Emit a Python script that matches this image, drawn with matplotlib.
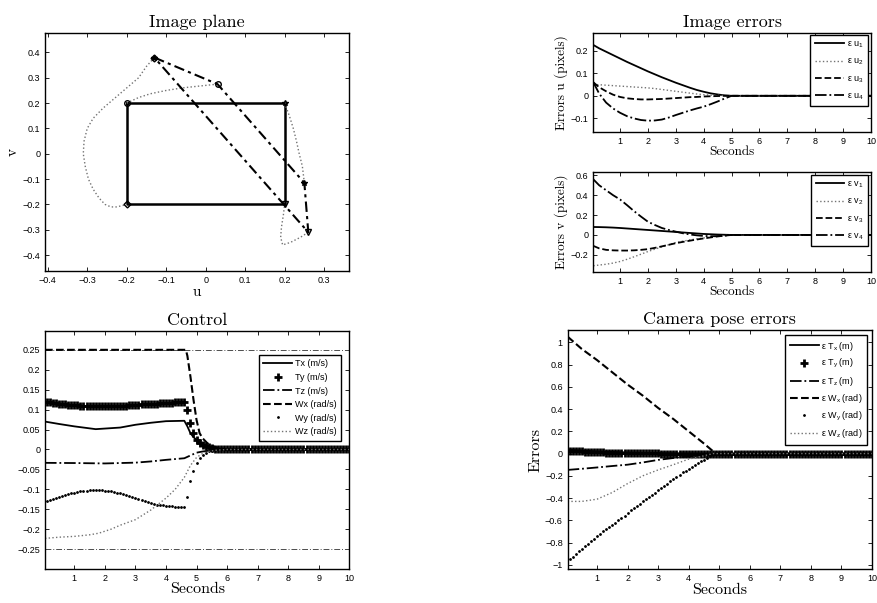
import numpy as np
import matplotlib
matplotlib.use("Agg")
import matplotlib.pyplot as plt
from matplotlib.ticker import FuncFormatter

plt.rcParams["font.family"] = ["Liberation Sans", "DejaVu Sans"]
plt.rcParams["mathtext.default"] = "regular"
plt.rcParams["axes.unicode_minus"] = True

SERIF = "cmr10"

# --- image plane: desired square, initial points, trajectories ---
des_u = [-0.2, 0.2, 0.2, -0.2, -0.2]
des_v = [0.2, 0.2, -0.2, -0.2, 0.2]
init_u = [-0.13, 0.03, 0.25, 0.26, -0.13]
init_v = [0.38, 0.275, -0.115, -0.31, 0.38]

traj1_u = [-0.13, -0.15, -0.17, -0.2, -0.23, -0.26, -0.285, -0.3, -0.308, -0.31,
           -0.305, -0.297, -0.285, -0.27, -0.255, -0.24, -0.225, -0.2]
traj1_v = [0.38, 0.345, 0.3, 0.26, 0.22, 0.18, 0.14, 0.1, 0.05, 0.0,
           -0.05, -0.1, -0.14, -0.175, -0.2, -0.21, -0.21, -0.2]
traj2_u = [0.03, 0.0, -0.03, -0.06, -0.1, -0.14, -0.17, -0.2]
traj2_v = [0.275, 0.27, 0.265, 0.26, 0.25, 0.237, 0.222, 0.2]
traj3_u = [0.25, 0.245, 0.237, 0.23, 0.222, 0.212, 0.2]
traj3_v = [-0.115, -0.05, 0.0, 0.05, 0.1, 0.15, 0.2]
traj4_u = [0.26, 0.24, 0.215, 0.195, 0.19, 0.192, 0.197, 0.2]
traj4_v = [-0.31, -0.33, -0.35, -0.36, -0.33, -0.29, -0.24, -0.2]

# --- image errors ---
t_err = [0.04, 0.25, 0.5, 0.75, 1, 1.25, 1.5, 1.75, 2, 2.25, 2.5, 2.75, 3,
         3.25, 3.5, 3.75, 4, 4.25, 4.5, 4.75, 5, 10]
eu1 = [0.225, 0.21, 0.195, 0.18, 0.165, 0.15, 0.136, 0.122, 0.108, 0.095, 0.082,
       0.07, 0.058, 0.047, 0.036, 0.026, 0.018, 0.011, 0.006, 0.002, 0.0, 0.0]
eu2 = [0.05, 0.049, 0.047, 0.045, 0.043, 0.041, 0.039, 0.037, 0.035, 0.032, 0.028,
       0.024, 0.02, 0.016, 0.012, 0.008, 0.005, 0.003, 0.002, 0.001, 0.0, 0.0]
eu3 = [0.06, 0.038, 0.02, 0.005, -0.005, -0.011, -0.014, -0.016, -0.016, -0.015, -0.014,
       -0.012, -0.01, -0.008, -0.006, -0.005, -0.003, -0.002, -0.001, 0.0, 0.0, 0.0]
eu4 = [0.06, 0.01, -0.03, -0.056, -0.075, -0.09, -0.1, -0.107, -0.11, -0.109, -0.105,
       -0.096, -0.085, -0.075, -0.065, -0.056, -0.048, -0.037, -0.025, -0.012, 0.0, 0.0]
ev1 = [0.08, 0.079, 0.077, 0.074, 0.07, 0.065, 0.06, 0.055, 0.05, 0.045, 0.04,
       0.035, 0.03, 0.025, 0.02, 0.015, 0.01, 0.007, 0.004, 0.002, 0.0, 0.0]
ev2 = [-0.31, -0.303, -0.295, -0.283, -0.267, -0.245, -0.22, -0.194, -0.167, -0.143, -0.12,
       -0.098, -0.077, -0.063, -0.05, -0.04, -0.03, -0.021, -0.012, -0.005, 0.0, 0.0]
ev3 = [-0.11, -0.135, -0.15, -0.155, -0.157, -0.157, -0.155, -0.15, -0.143, -0.13, -0.115,
       -0.099, -0.083, -0.07, -0.058, -0.046, -0.035, -0.025, -0.015, -0.007, 0.0, 0.0]
ev4 = [0.56, 0.5, 0.45, 0.4, 0.357, 0.3, 0.24, 0.185, 0.133, 0.1, 0.07,
       0.05, 0.033, 0.017, 0.005, -0.004, -0.01, -0.013, -0.012, -0.007, 0.0, 0.0]

# --- control ---
t_tx = [0.04, 0.5, 1, 1.7, 2.5, 3, 3.5, 4, 4.6, 4.7, 4.8, 4.9, 5.0, 5.2, 5.4, 5.7, 6, 10]
ctrl_tx = [0.07, 0.064, 0.058, 0.051, 0.055, 0.062, 0.067, 0.071, 0.072, 0.058, 0.041,
           0.031, 0.024, 0.013, 0.007, 0.003, 0.0, 0.0]
t_tz = [0.04, 1, 2, 3, 3.5, 4, 4.6, 4.8, 5.0, 5.2, 5.4, 5.6, 10]
ctrl_tz = [-0.0335, -0.034, -0.035, -0.033, -0.03, -0.026, -0.022, -0.015, -0.008,
           -0.005, -0.003, 0.0, 0.0]
t_wx = [0.04, 4.65, 4.7, 4.8, 4.9, 5.0, 5.1, 5.2, 5.35, 5.5, 5.7, 6.0, 10]
ctrl_wx = [0.25, 0.25, 0.235, 0.183, 0.125, 0.074, 0.041, 0.028, 0.016, 0.009, 0.004, 0.0, 0.0]
t_wz = [0.04, 0.5, 1, 1.5, 1.8, 2.2, 2.5, 3, 3.5, 4, 4.3, 4.6, 4.8, 5.0, 5.2, 5.4, 5.6, 6, 10]
ctrl_wz = [-0.223, -0.22, -0.218, -0.214, -0.21, -0.2, -0.19, -0.176, -0.152, -0.122,
           -0.1, -0.07, -0.04, -0.02, -0.01, -0.005, -0.002, 0.0, 0.0]
# sampled every 0.1 s (marker series)
t_samp = np.round(np.arange(1, 101) * 0.1, 2)
ctrl_ty = ([0.118, 0.118, 0.117, 0.116, 0.115, 0.114, 0.113, 0.112, 0.112, 0.111,
            0.111, 0.11, 0.11, 0.11, 0.11, 0.11, 0.11, 0.11, 0.11, 0.11,
            0.11, 0.11, 0.11, 0.11, 0.11, 0.11, 0.11, 0.111, 0.111, 0.112,
            0.112, 0.113, 0.113, 0.114, 0.114, 0.115, 0.115, 0.116, 0.116, 0.117,
            0.117, 0.117, 0.118, 0.118, 0.118, 0.118,
            0.099, 0.066, 0.041, 0.024, 0.016, 0.012, 0.008, 0.005, 0.003, 0.002,
            0.001, 0.0, 0.0, 0.0] + [0.0] * 40)
ctrl_wy = ([-0.128, -0.126, -0.124, -0.122, -0.12, -0.117, -0.115, -0.112, -0.11, -0.108,
            -0.106, -0.105, -0.104, -0.103, -0.102, -0.101, -0.101, -0.101, -0.102, -0.103,
            -0.104, -0.105, -0.107, -0.108, -0.11, -0.112, -0.115, -0.117, -0.12, -0.122,
            -0.124, -0.127, -0.129, -0.132, -0.134, -0.136, -0.138, -0.139, -0.14, -0.141,
            -0.142, -0.143, -0.144, -0.144, -0.145, -0.145,
            -0.12, -0.08, -0.055, -0.035, -0.022, -0.013, -0.008, -0.005, -0.003, -0.001,
            0.0, 0.0, 0.0, 0.0] + [0.0] * 40)
sat_limit = 0.25

# --- camera pose errors ---
t_pose = [0.04, 0.5, 1, 1.5, 2, 2.5, 3, 3.5, 4, 4.5, 4.8, 5, 10]
pose_tx = [0.035, 0.028, 0.02, 0.015, 0.01, 0.007, 0.005, 0.003, 0.002, 0.001, 0.0, 0.0, 0.0]
pose_tz = [-0.147, -0.137, -0.125, -0.112, -0.1, -0.08, -0.057, -0.04, -0.025, -0.01, 0.0, 0.0, 0.0]
pose_wx = [1.05, 0.94, 0.84, 0.73, 0.62, 0.52, 0.41, 0.31, 0.2, 0.09, 0.02, 0.0, 0.0]
pose_wz = [-0.43, -0.43, -0.41, -0.35, -0.27, -0.2, -0.147, -0.1, -0.05, -0.02, 0.0, 0.0, 0.0]
pose_ty = ([0.025, 0.024, 0.022, 0.021, 0.019, 0.018, 0.016, 0.015, 0.013, 0.012,
            0.011, 0.01, 0.009, 0.008, 0.007, 0.007, 0.006, 0.006, 0.005, 0.005,
            0.004, 0.004, 0.003, 0.003, 0.003, 0.002, 0.002, 0.002, 0.001, 0.001] + [0.0] * 70)
pose_wy = ([-0.95, -0.93, -0.9, -0.88, -0.86, -0.83, -0.81, -0.79, -0.77, -0.745,
            -0.72, -0.7, -0.68, -0.66, -0.64, -0.62, -0.6, -0.58, -0.56, -0.53,
            -0.51, -0.49, -0.47, -0.45, -0.43, -0.41, -0.39, -0.37, -0.35, -0.33,
            -0.31, -0.29, -0.27, -0.25, -0.23, -0.21, -0.19, -0.17, -0.155, -0.14,
            -0.12, -0.1, -0.085, -0.07, -0.055, -0.04, -0.025, -0.01] + [0.0] * 52)


def g_fmt(x, pos):
    if abs(x) < 1e-9:
        return "0"
    s = "%g" % round(x, 6)
    return s.replace("-", "\u2212")


def style(ax):
    ax.tick_params(direction="in", top=True, right=True, labelsize=6.5, length=3, width=0.6)
    ax.xaxis.set_major_formatter(FuncFormatter(g_fmt))
    ax.yaxis.set_major_formatter(FuncFormatter(g_fmt))
    for sp in ax.spines.values():
        sp.set_linewidth(1.0)


def legend(ax, x, y, spacing=0.5):
    leg = ax.legend(loc="upper right", bbox_to_anchor=(x, y), borderaxespad=0,
                    fontsize=6.5, fancybox=False, framealpha=1, edgecolor="black",
                    handlelength=3.2, handletextpad=0.3, labelspacing=spacing, borderpad=0.5)
    leg.get_frame().set_linewidth(1.0)


fig = plt.figure(figsize=(8.77, 6.03), dpi=100)
DOT = "0.45"

# image plane
ax = fig.add_axes([0.0513, 0.5506, 0.3466, 0.3947])
ax.plot(des_u, des_v, "-", color="black", lw=1.8)
for uu, vv in [(traj1_u, traj1_v), (traj2_u, traj2_v), (traj3_u, traj3_v), (traj4_u, traj4_v)]:
    ax.plot(uu, vv, ":", color=DOT, lw=1.0)
ax.plot(init_u, init_v, color="black", lw=1.5, dashes=(5, 2, 1.5, 2))
ax.plot(des_u[0], des_v[0], "o", mfc="none", mec="black", ms=4)
ax.plot(des_u[1], des_v[1], "*", mfc="none", mec="black", ms=4)
ax.plot(des_u[3], des_v[3], "D", mfc="none", mec="black", ms=3.5)
ax.plot(des_u[2], des_v[2], "v", mfc="none", mec="black", ms=4)
ax.plot(init_u[0], init_v[0], "D", mfc="none", mec="black", ms=3.5)
ax.plot(init_u[0], init_v[0], "*", mfc="none", mec="black", ms=4)
ax.plot(init_u[1], init_v[1], "o", mfc="none", mec="black", ms=4)
ax.plot(init_u[2], init_v[2], "*", mfc="none", mec="black", ms=4)
ax.plot(init_u[3], init_v[3], "v", mfc="none", mec="black", ms=4)
ax.set_xlim(-0.407, 0.363)
ax.set_ylim(-0.463, 0.477)
ax.set_xticks(np.round(np.arange(-0.4, 0.31, 0.1), 1))
ax.set_yticks(np.round(np.arange(-0.4, 0.41, 0.1), 1))
style(ax)
ax.set_title("Image plane", fontfamily=SERIF, fontsize=13, pad=4)
ax.set_xlabel("u", fontfamily=SERIF, fontsize=11, labelpad=0)
ax.set_ylabel("v", fontfamily=SERIF, fontsize=11, labelpad=2)

# image errors u
ax = fig.add_axes([0.6765, 0.7811, 0.3166, 0.165])
ax.plot(t_err, eu1, "-", color="black", lw=1.3, label="ε u$_1$")
ax.plot(t_err, eu2, ":", color=DOT, lw=1.0, label="ε u$_2$")
ax.plot(t_err, eu3, "--", color="black", lw=1.3, label="ε u$_3$")
ax.plot(t_err, eu4, "-.", color="black", lw=1.3, label="ε u$_4$")
ax.set_xlim(0.04, 10)
ax.set_ylim(-0.16, 0.28)
ax.set_xticks(range(1, 11))
ax.set_yticks([-0.1, 0, 0.1, 0.2])
style(ax)
legend(ax, 0.99, 0.975, spacing=0.75)
ax.set_title("Image errors", fontfamily=SERIF, fontsize=13, pad=4)
ax.set_xlabel("Seconds", fontfamily=SERIF, fontsize=9.5, labelpad=0)
ax.set_ylabel("Errors u (pixels)", fontfamily=SERIF, fontsize=9.5, labelpad=2)

# image errors v
ax = fig.add_axes([0.6765, 0.5494, 0.3166, 0.1648])
ax.plot(t_err, ev1, "-", color="black", lw=1.3, label="ε v$_1$")
ax.plot(t_err, ev2, ":", color=DOT, lw=1.0, label="ε v$_2$")
ax.plot(t_err, ev3, "--", color="black", lw=1.3, label="ε v$_3$")
ax.plot(t_err, ev4, "-.", color="black", lw=1.3, label="ε v$_4$")
ax.set_xlim(0.04, 10)
ax.set_ylim(-0.37, 0.63)
ax.set_xticks(range(1, 11))
ax.set_yticks([-0.2, 0, 0.2, 0.4, 0.6])
style(ax)
legend(ax, 0.99, 0.973, spacing=0.75)
ax.set_xlabel("Seconds", fontfamily=SERIF, fontsize=9.5, labelpad=0)
ax.set_ylabel("Errors v (pixels)", fontfamily=SERIF, fontsize=9.5, labelpad=2)

# control
ax = fig.add_axes([0.0513, 0.0569, 0.347, 0.3947])
ax.axhline(sat_limit, color="0.3", lw=0.7, dashes=(6, 2, 1, 2))
ax.axhline(-sat_limit, color="0.3", lw=0.7, dashes=(6, 2, 1, 2))
ax.plot(t_tx, ctrl_tx, "-", color="black", lw=1.3, label="Tx (m/s)")
ax.plot(t_samp, ctrl_ty, "+", color="black", ms=6, mew=2, ls="none", label="Ty (m/s)")
ax.plot(t_tz, ctrl_tz, "-.", color="black", lw=1.3, label="Tz (m/s)")
ax.plot(t_wx, ctrl_wx, "--", color="black", lw=1.5, label="Wx (rad/s)")
ax.plot(t_samp, ctrl_wy, ".", color="black", ms=2, ls="none", label="Wy (rad/s)")
ax.plot(t_wz, ctrl_wz, ":", color=DOT, lw=1.0, label="Wz (rad/s)")
ax.set_xlim(0.04, 10)
ax.set_ylim(-0.299, 0.298)
ax.set_xticks(range(1, 11))
ax.set_yticks(np.round(np.arange(-0.25, 0.26, 0.05), 2))
style(ax)
legend(ax, 0.973, 0.898)
ax.set_title("Control", fontfamily=SERIF, fontsize=13, pad=4)
ax.set_xlabel("Seconds", fontfamily=SERIF, fontsize=11.5, labelpad=0)

# camera pose errors
ax = fig.add_axes([0.6473, 0.0559, 0.347, 0.3968])
ax.plot(t_pose, pose_tx, "-", color="black", lw=1.3, label="ε T$_x$ (m)")
ax.plot(t_samp, pose_ty, "+", color="black", ms=6, mew=2, ls="none", label="ε T$_y$ (m)")
ax.plot(t_pose, pose_tz, "-.", color="black", lw=1.3, label="ε T$_z$ (m)")
ax.plot(t_pose, pose_wx, "--", color="black", lw=1.5, label="ε W$_x$ (rad)")
ax.plot(t_samp, pose_wy, ".", color="black", ms=2, ls="none", label="ε W$_y$ (rad)")
ax.plot(t_pose, pose_wz, ":", color=DOT, lw=1.0, label="ε W$_z$ (rad)")
ax.set_xlim(0.04, 10)
ax.set_ylim(-1.04, 1.11)
ax.set_xticks(range(1, 11))
ax.set_yticks(np.round(np.arange(-1, 1.01, 0.2), 1))
style(ax)
legend(ax, 0.9845, 0.979)
ax.set_title("Camera pose errors", fontfamily=SERIF, fontsize=13, pad=4)
ax.set_xlabel("Seconds", fontfamily=SERIF, fontsize=11.5, labelpad=0)
ax.set_ylabel("Errors", fontfamily=SERIF, fontsize=11.5, labelpad=2)

fig.savefig("out.png", dpi=100)
